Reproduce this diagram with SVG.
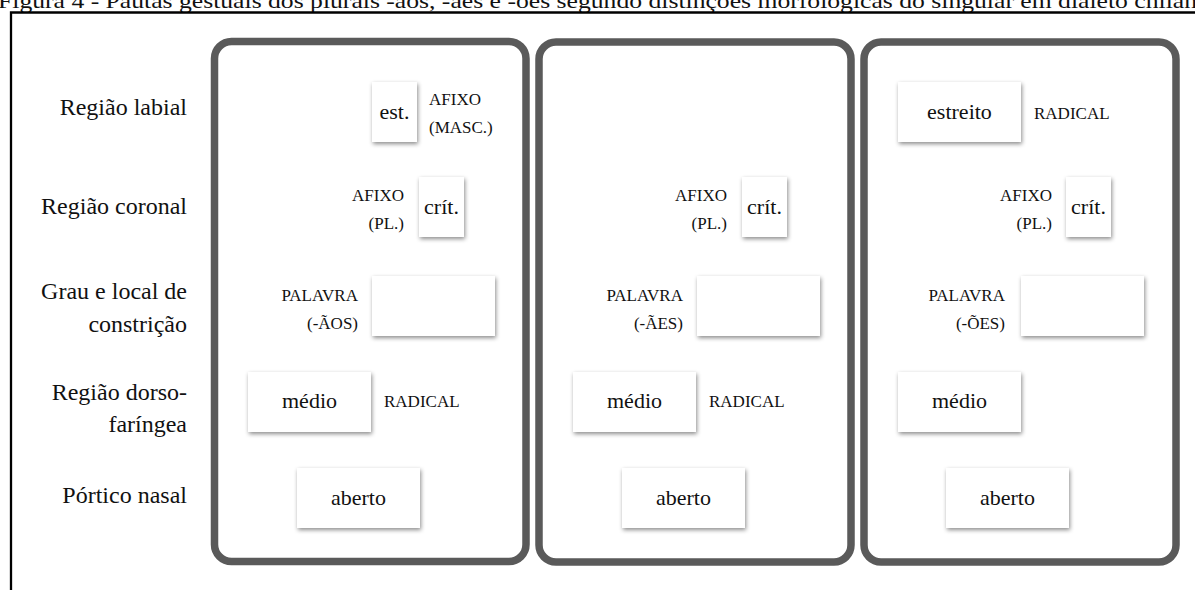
<svg xmlns="http://www.w3.org/2000/svg" width="1195" height="590" viewBox="0 0 1195 590">
<defs>
<filter id="sh" x="-30%" y="-30%" width="160%" height="160%">
<feDropShadow dx="1" dy="2" stdDeviation="2" flood-color="#000" flood-opacity="0.45"/>
</filter>
<style>
text{font-family:"Liberation Serif","Times New Roman",serif;fill:#111}
.cap{font-size:22px}
.lab{font-size:24px;text-anchor:end}
.panel{fill:#fff;stroke:#5a5a5a;stroke-width:7.5}
.box{fill:#fff;filter:url(#sh)}
.bt{font-size:22px;text-anchor:middle}
.sm{font-size:17px}
.e{text-anchor:end}
</style>
</defs>
<rect width="1195" height="590" fill="#fff"/>
<text class="cap" x="-2" y="8" textLength="1199" lengthAdjust="spacingAndGlyphs">Figura 4 - Pautas gestuais dos plurais -ãos, -ães e -ões segundo distinções morfológicas do singular em dialeto chilan</text>
<path d="M11,590 V12.5 H1195" fill="none" stroke="#000" stroke-width="2.3"/>
<g id="labels">
<text class="lab" x="187" y="115">Região labial</text>
<text class="lab" x="187" y="214">Região coronal</text>
<text class="lab" x="187" y="299">Grau e local de</text>
<text class="lab" x="187" y="332">constrição</text>
<text class="lab" x="187" y="400">Região dorso-</text>
<text class="lab" x="187" y="432">faríngea</text>
<text class="lab" x="187" y="503">Pórtico nasal</text>
</g>
<g id="panel1">
<rect class="panel" x="214.5" y="41.5" width="311.5" height="520" rx="17"/>
<g id="p1-labial"><rect class="box" x="372" y="82" width="45" height="60"/><text class="bt" x="394.5" y="119">est.</text>
<text class="sm" x="429" y="105">AFIXO</text><text class="sm" x="429" y="133">(MASC.)</text></g>
<g id="p1-coronal"><rect class="box" x="419" y="177" width="45" height="60"/><text class="bt" x="441.5" y="214">crít.</text>
<text class="sm e" x="404" y="201">AFIXO</text><text class="sm e" x="404" y="229">(PL.)</text></g>
<g id="p1-grau"><rect class="box" x="372" y="276" width="123" height="60"/>
<text class="sm e" x="358" y="301">PALAVRA</text><text class="sm e" x="358" y="329">(-ÃOS)</text></g>
<g id="p1-dorso"><rect class="box" x="248" y="372" width="123" height="60"/><text class="bt" x="309.5" y="408">médio</text>
<text class="sm" x="384" y="407">RADICAL</text></g>
<g id="p1-nasal"><rect class="box" x="297" y="468" width="123" height="60"/><text class="bt" x="358.5" y="505">aberto</text></g>
</g>
<g id="panel2">
<rect class="panel" x="539" y="42" width="312" height="520" rx="17"/>
<g id="p2-coronal"><rect class="box" x="742" y="177" width="45" height="60"/><text class="bt" x="764.5" y="214">crít.</text>
<text class="sm e" x="727" y="201">AFIXO</text><text class="sm e" x="727" y="229">(PL.)</text></g>
<g id="p2-grau"><rect class="box" x="697" y="276" width="123" height="60"/>
<text class="sm e" x="683" y="301">PALAVRA</text><text class="sm e" x="683" y="329">(-ÃES)</text></g>
<g id="p2-dorso"><rect class="box" x="573" y="372" width="123" height="60"/><text class="bt" x="634.5" y="408">médio</text>
<text class="sm" x="709" y="407">RADICAL</text></g>
<g id="p2-nasal"><rect class="box" x="622" y="468" width="123" height="60"/><text class="bt" x="683.5" y="505">aberto</text></g>
</g>
<g id="panel3">
<rect class="panel" x="864" y="42" width="312" height="520" rx="17"/>
<g id="p3-labial"><rect class="box" x="898" y="82" width="123" height="60"/><text class="bt" x="959.5" y="119">estreito</text>
<text class="sm" x="1034" y="119">RADICAL</text></g>
<g id="p3-coronal"><rect class="box" x="1066" y="177" width="45" height="60"/><text class="bt" x="1088.5" y="214">crít.</text>
<text class="sm e" x="1052" y="201">AFIXO</text><text class="sm e" x="1052" y="229">(PL.)</text></g>
<g id="p3-grau"><rect class="box" x="1021" y="276" width="123" height="60"/>
<text class="sm e" x="1005" y="301">PALAVRA</text><text class="sm e" x="1005" y="329">(-ÕES)</text></g>
<g id="p3-dorso"><rect class="box" x="898" y="372" width="123" height="60"/><text class="bt" x="959.5" y="408">médio</text></g>
<g id="p3-nasal"><rect class="box" x="946" y="468" width="123" height="60"/><text class="bt" x="1007.5" y="505">aberto</text></g>
</g>
<g id="connectors"/>
</svg>
